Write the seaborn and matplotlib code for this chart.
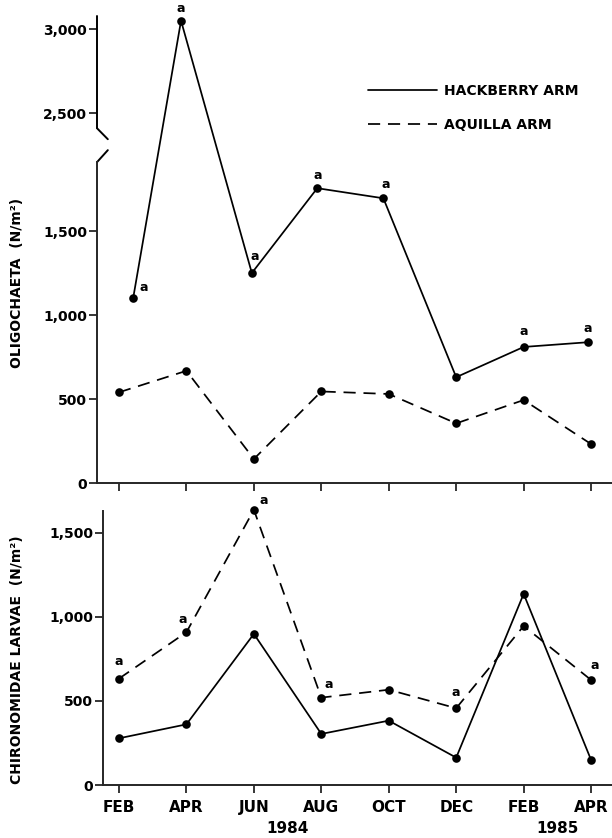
import numpy as np
import pandas as pd
import matplotlib
matplotlib.use('Agg')
import matplotlib.pyplot as plt
import matplotlib.transforms as mtrans
from matplotlib.lines import Line2D
from matplotlib.ticker import FuncFormatter
import seaborn as sns

months = ['FEB', 'APR', 'JUN', 'AUG', 'OCT', 'DEC', 'FEB', 'APR']
years = ['1984', '1985']
year_pos = [2.5, 6.5]
sites = ['HACKBERRY ARM', 'AQUILLA ARM']

# Oligochaeta (N/m2); hackberry samples sit a little off the month ticks
oligo_hack_pos = [0.21, 0.92, 1.97, 2.94, 3.92, 5.0, 6.0, 6.95]
oligo_hack = [1100, 3050, 1250, 1755, 1695, 630, 810, 838]
oligo_aqu_pos = [0, 1, 2, 3, 4, 5, 6, 7]
oligo_aqu = [540, 668, 143, 545, 530, 355, 494, 232]
oligo_hack_sig = [1, 1, 1, 1, 1, 0, 1, 1]

# Chironomidae larvae (N/m2)
chiro_pos = [0, 1, 2, 3, 4, 5, 6, 7]
chiro_hack = [278, 361, 899, 304, 383, 163, 1137, 149]
chiro_aqu = [633, 909, 1637, 520, 567, 457, 946, 625]
chiro_aqu_sig = [1, 1, 1, 1, 0, 1, 0, 1]

oligo = pd.concat([
    pd.DataFrame({'pos': oligo_hack_pos, 'density': oligo_hack, 'site': sites[0]}),
    pd.DataFrame({'pos': oligo_aqu_pos, 'density': oligo_aqu, 'site': sites[1]}),
])
chiro = pd.concat([
    pd.DataFrame({'pos': chiro_pos, 'density': chiro_hack, 'site': sites[0]}),
    pd.DataFrame({'pos': chiro_pos, 'density': chiro_aqu, 'site': sites[1]}),
])

sns.set_style('ticks')
plt.rcParams['font.family'] = ['DejaVu Sans']
plt.rcParams['font.weight'] = 'bold'
plt.rcParams['axes.linewidth'] = 1.4
plt.rcParams['text.color'] = 'black'
plt.rcParams['axes.labelcolor'] = 'black'

# broken y axis on the top panel: squeeze B1..B2 into a short gap
B1, B2, GAP = 1910, 2410, 202


def fwd(y):
    y = np.asarray(y, float)
    return np.where(y <= B1, y,
                    np.where(y < B2, B1 + (y - B1) * GAP / (B2 - B1), y - (B2 - B1 - GAP)))


def inv(v):
    v = np.asarray(v, float)
    return np.where(v <= B1, v,
                    np.where(v < B1 + GAP, B1 + (v - B1) * (B2 - B1) / GAP, v + (B2 - B1 - GAP)))


fig = plt.figure(figsize=(6.12, 8.38), dpi=100)
ax1 = fig.add_axes([0.1585, 0.4236, 0.8415, 0.5573])
ax2 = fig.add_axes([0.1683, 0.0632, 0.8317, 0.3270])

dash = (7, 4.5)
dashes = {sites[0]: '', sites[1]: dash}
markers = {sites[0]: 'o', sites[1]: 'o'}
line_kw = dict(color='black', linewidth=1.25, markersize=6.2, markeredgewidth=0,
               legend=False, clip_on=False)

sns.lineplot(data=oligo, x='pos', y='density', style='site', dashes=dashes,
             markers=markers, ax=ax1, **line_kw)
sns.lineplot(data=chiro, x='pos', y='density', style='site', dashes=dashes,
             markers=markers, ax=ax2, **line_kw)

ax1.set_yscale('function', functions=(fwd, inv))
ax1.set_ylim(0, 3078)
ax1.set_yticks([0, 500, 1000, 1500, 2500, 3000])
ax2.set_ylim(0, 1630)
ax2.set_yticks([0, 500, 1000, 1500])
fmt = FuncFormatter(lambda v, p: f'{v:,.0f}')

for ax in (ax1, ax2):
    ax.yaxis.set_major_formatter(fmt)
    ax.set_xticks(range(len(months)))
    ax.set_xlabel('')
    ax.tick_params(axis='both', direction='out', length=6, width=1.1,
                   colors='black', labelsize=10, pad=1)
    ax.tick_params(axis='x', labelsize=11, pad=5)
    ax.spines['top'].set_visible(False)
    ax.spines['right'].set_visible(False)
    ax.patch.set_alpha(0)
    for t in ax.get_yticklabels() + ax.get_xticklabels():
        t.set_fontweight('bold')

ax1.set_xlim(-0.326, 7.31)
ax2.set_xlim(-0.237, 7.31)
ax1.set_xticklabels([])
ax2.set_xticklabels(months, fontweight='bold')

# draw the break in the left spine
ytop = fwd(3078)
lo = fwd(B1) / ytop
hi = fwd(B2) / ytop
ax1.spines['left'].set_bounds(0, B1)
brk = dict(transform=ax1.transAxes, color='black', linewidth=1.4, clip_on=False)
ax1.add_line(Line2D([0, 0], [hi, 1], **brk))
ax1.add_line(Line2D([0, 0.021], [hi, hi - 0.0235], **brk))
ax1.add_line(Line2D([0.021, 0], [lo + 0.0257, lo], **brk))

ax1.set_ylabel('OLIGOCHAETA  (N/m²)', fontsize=10, fontweight='bold')
ax1.yaxis.set_label_coords(-0.142, 0.428)
ax2.set_ylabel('CHIRONOMIDAE LARVAE  (N/m²)', fontsize=10, fontweight='bold')
ax2.yaxis.set_label_coords(-0.155, 0.456)

# year labels under the month labels
yr_tr = mtrans.blended_transform_factory(ax2.transData, ax2.transAxes)
for yp, yl in zip(year_pos, years):
    ax2.text(yp, -0.157, yl, transform=yr_tr, ha='center', va='center',
             fontsize=11, fontweight='bold')

# significance marks
a_kw = dict(textcoords='offset pixels', ha='center', va='center',
            fontsize=9, fontweight='bold', color='black', annotation_clip=False)
top_off = [(11, 11), (0, 12), (3, 17), (0, 13), (2, 14), (0, 0), (0, 15), (0, 14)]
for x, y, s, o in zip(oligo_hack_pos, oligo_hack, oligo_hack_sig, top_off):
    if s:
        ax1.annotate('a', (x, y), xytext=o, **a_kw)
bot_off = [(0, 17), (-4, 13), (10, 9), (7, 13), (0, 0), (0, 16), (0, 0), (4, 14)]
for x, y, s, o in zip(chiro_pos, chiro_aqu, chiro_aqu_sig, bot_off):
    if s:
        ax2.annotate('a', (x, y), xytext=o, **a_kw)

# legend
handles = [Line2D([], [], color='black', linewidth=1.25, linestyle='-'),
           Line2D([], [], color='black', linewidth=1.25, dashes=dash)]
ax1.legend(handles, sites, loc='upper left', bbox_to_anchor=(0.601, 0.9),
           bbox_transform=fig.transFigure, frameon=False, borderpad=0,
           borderaxespad=0, handlelength=4.96, handletextpad=0.5,
           labelspacing=1.44, prop={'size': 10, 'weight': 'bold'},
           labelcolor='black')

fig.savefig('out.png', dpi=100, facecolor='white')
